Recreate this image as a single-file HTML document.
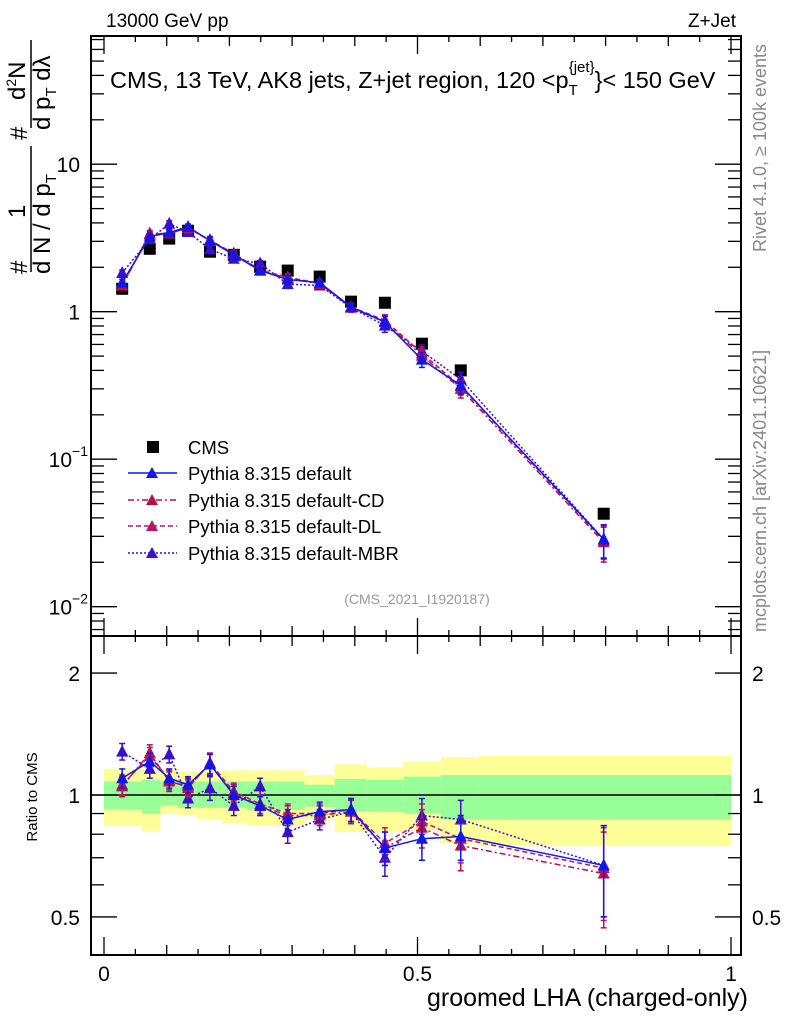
<!DOCTYPE html>
<html><head><meta charset="utf-8"><style>
body{margin:0;background:#fff}
svg{display:block;font-family:"Liberation Sans",sans-serif}
</style></head><body>
<svg id="chart" width="786" height="1024" viewBox="0 0 786 1024" xmlns="http://www.w3.org/2000/svg">
<g id="bands"></g><g id="grid"></g><g id="marks"></g>
<rect x="91" y="36" width="650" height="600" fill="none" stroke="#000" stroke-width="2"/>
<rect x="91" y="636" width="650" height="319" fill="none" stroke="#000" stroke-width="2"/>
<text x="106" y="27" font-size="19">13000 GeV pp</text>
<text x="736" y="27" font-size="19" text-anchor="end">Z+Jet</text>
<text x="110" y="88" font-size="23.5">CMS, 13 TeV, AK8 jets, Z+jet region, 120 &lt;p<tspan font-size="15" dy="7">T</tspan><tspan font-size="15" dy="-23" dx="-9">{jet}</tspan><tspan dy="16">}&lt; 150 GeV</tspan></text>
<text x="417" y="604" font-size="14" fill="#999" text-anchor="middle">(CMS_2021_I1920187)</text>
<text transform="translate(766,252) rotate(-90)" font-size="18" fill="#888">Rivet 4.1.0, ≥ 100k events</text>
<text transform="translate(766,632) rotate(-90)" font-size="18" fill="#888">mcplots.cern.ch [arXiv:2401.10621]</text>
<g font-size="24">
<text transform="translate(27,274) rotate(-90)">#</text>
<text transform="translate(25,218) rotate(-90)">1</text>
<line x1="31" y1="272" x2="31" y2="146" stroke="#000" stroke-width="1.5"/>
<text transform="translate(50,274) rotate(-90)">d N / d p<tspan font-size="15" dy="6">T</tspan></text>
<text transform="translate(27,140) rotate(-90)">#</text>
<text transform="translate(25,100) rotate(-90)">d<tspan font-size="14" dy="-9">2</tspan><tspan dy="9">N</tspan></text>
<line x1="31" y1="128" x2="31" y2="40" stroke="#000" stroke-width="1.5"/>
<text transform="translate(50,130) rotate(-90)">d p<tspan font-size="15" dy="6">T</tspan><tspan dy="-6"> dλ</tspan></text>
</g>
<text transform="translate(37,797) rotate(-90)" font-size="15" text-anchor="middle">Ratio to CMS</text>
<text x="748" y="1006" font-size="25" text-anchor="end">groomed LHA (charged-only)</text>
<g font-size="18.5">
<rect x="147" y="441" width="12" height="12" fill="#000"/>
<text x="188" y="454">CMS</text>
<line x1="128" y1="473" x2="177" y2="473" stroke="#1515e8" stroke-width="1.5"/>
<polygon points="146,478 158,478 152,467" fill="#1515e8"/>
<text x="188" y="480">Pythia 8.315 default</text>
<line x1="128" y1="500" x2="177" y2="500" stroke="#b5114a" stroke-width="1.5" stroke-dasharray="6,3,2,3"/>
<polygon points="146,505 158,505 152,494" fill="#b5114a"/>
<text x="188" y="507">Pythia 8.315 default-CD</text>
<line x1="128" y1="526" x2="177" y2="526" stroke="#b3176e" stroke-width="1.5" stroke-dasharray="5,3"/>
<polygon points="146,531 158,531 152,520" fill="#b3176e"/>
<text x="188" y="533">Pythia 8.315 default-DL</text>
<line x1="128" y1="553" x2="177" y2="553" stroke="#3a10c8" stroke-width="1.5" stroke-dasharray="2,2"/>
<polygon points="146,558 158,558 152,547" fill="#3a10c8"/>
<text x="188" y="560">Pythia 8.315 default-MBR</text>
</g>
</svg>
<script>
const lhaX=[0.029,0.073,0.104,0.134,0.169,0.207,0.249,0.293,0.344,0.394,0.448,0.507,0.569,0.797];
const cmsVals=[1.43,2.67,3.13,3.54,2.55,2.43,2.02,1.90,1.73,1.17,1.15,0.607,0.40,0.0427];
const ratioDefault=[1.10,1.21,1.10,1.06,1.19,1.00,0.94,0.87,0.91,0.92,0.74,0.78,0.79,0.67];
const ratioCD=[1.05,1.27,1.08,1.05,1.19,1.01,0.94,0.89,0.89,0.91,0.74,0.83,0.75,0.64];
const ratioDL=[1.06,1.25,1.09,1.04,1.20,1.02,0.95,0.90,0.90,0.92,0.76,0.86,0.78,0.66];
const ratioMBR=[1.28,1.16,1.26,0.98,1.04,0.94,1.05,0.81,0.87,0.91,0.70,0.89,0.87,0.67];
const ratioErr=[0.06,0.06,0.06,0.05,0.07,0.05,0.05,0.05,0.05,0.06,0.07,0.09,0.10,0.17];
const binEdges=[0,0.06,0.09,0.117,0.148,0.188,0.228,0.273,0.32,0.368,0.419,0.478,0.537,0.598,1.0];
const yellowHi=[1.16,1.16,1.16,1.14,1.14,1.15,1.15,1.15,1.12,1.19,1.17,1.21,1.24,1.25];
const yellowLo=[0.84,0.815,0.90,0.89,0.87,0.85,0.84,0.84,0.87,0.81,0.81,0.82,0.76,0.75];
const greenHi=[1.08,1.09,1.08,1.08,1.08,1.08,1.08,1.08,1.06,1.095,1.09,1.11,1.12,1.12];
const greenLo=[0.92,0.90,0.945,0.93,0.93,0.93,0.92,0.92,0.935,0.91,0.91,0.90,0.87,0.87];
const mainTicks=[10,1,0.1,0.01];
const ratioTicks=[2,1,0.5];
const xTicks=[0,0.5,1];

const NS="http://www.w3.org/2000/svg";
const X=v=>104+627*v;
const Ym=v=>311.7-147.5*Math.log10(v);
const Yr=r=>795-405*Math.log10(r);
function mk(parent,tag,attrs){const e=document.createElementNS(NS,tag);for(const k in attrs)e.setAttribute(k,attrs[k]);document.getElementById(parent).appendChild(e);return e;}

for(let i=0;i<binEdges.length-1;i++){
  const x0=X(binEdges[i]),w=X(binEdges[i+1])-x0;
  let r=mk('bands','rect',{x:x0,y:Yr(yellowHi[i]),width:w,height:Yr(yellowLo[i])-Yr(yellowHi[i]),fill:'#ffff99'});
  
  
  r=mk('bands','rect',{x:x0,y:Yr(greenHi[i]),width:w,height:Yr(greenLo[i])-Yr(greenHi[i]),fill:'#99ff99'});
  
  
}
let ref=mk('grid','line',{x1:91,x2:741,y1:Yr(1),y2:Yr(1),stroke:'#000','stroke-width':1.5});



function tk(x1,y1,x2,y2){mk('grid','line',{x1,y1,x2,y2,stroke:'#000','stroke-width':1.3});}
for(let d=-3;d<=1;d++){for(let m=1;m<=9;m++){const v=m*Math.pow(10,d);const y=Ym(v);if(y<36||y>636)continue;const L=m===1?26:13;tk(91,y,91+L,y);tk(741,y,741-L,y);}}
mainTicks.forEach(v=>{const y=Ym(v);let t;
  if(v===10||v===1){t=mk('grid','text',{x:80,y:y+8,'font-size':21,'text-anchor':'end'});t.textContent=String(v);}
  else{const e=Math.round(Math.log10(v));t=mk('grid','text',{x:72,y:y+8,'font-size':21,'text-anchor':'end'});t.textContent='10';const s=mk('grid','text',{x:88,y:y-3,'font-size':14,'text-anchor':'end'});s.textContent=String.fromCharCode(8722)+Math.abs(e);}
  
  
});
[0.5,0.6,0.7,0.8,0.9,1,2].forEach(r=>{const y=Yr(r);const L=(r===1||r===2||r===0.5)?26:13;tk(91,y,91+L,y);tk(741,y,741-L,y);});
ratioTicks.forEach(r=>{const y=Yr(r);[[80,'end'],[752,'start']].forEach(([x,a])=>{const t=mk('grid','text',{x:x,y:y+8,'font-size':21,'text-anchor':a});t.textContent=String(r);
  
  });});
for(let i=0;i<=20;i++){const v=i*0.05,x=X(v);const L=i%10===0?18:(i%2===0?10:6);tk(x,955,x,955-L);tk(x,636,x,636-L);tk(x,36,x,36+L);tk(x,636,x,636+L);}
xTicks.forEach(v=>{const t=mk('grid','text',{x:X(v),y:981,'font-size':21,'text-anchor':'middle'});t.textContent=String(v);
  
  });

cmsVals.forEach((v,i)=>{const r=mk('marks','rect',{x:X(lhaX[i])-6,y:Ym(v)-6,width:12,height:12,fill:'#000'});
  
  });

const series=[[ratioMBR,'#3a10c8','2,2','mbr'],[ratioDL,'#b3176e','5,3','dl'],[ratioCD,'#b5114a','6,3,2,3','cd'],[ratioDefault,'#1515e8','','default']];
series.forEach(([rat,col,dash,nm])=>{
  const mainPts=rat.map((r,i)=>X(lhaX[i])+','+Ym(r*cmsVals[i])).join(' ');
  const ratPts=rat.map((r,i)=>X(lhaX[i])+','+Yr(r)).join(' ');
  let p=mk('marks','polyline',{points:mainPts,fill:'none',stroke:col,'stroke-width':1.5,'stroke-dasharray':dash});
  
  
  p=mk('marks','polyline',{points:ratPts,fill:'none',stroke:col,'stroke-width':1.5,'stroke-dasharray':dash});
  
  
  rat.forEach((r,i)=>{const x=X(lhaX[i]);
    [[Ym,r*cmsVals[i],ratioErr[i]*cmsVals[i]],[Yr,r,ratioErr[i]]].forEach(([F,v,e])=>{
      const y1=F(v+e),y2=F(Math.max(v-e,0.01));
      mk('marks','line',{x1:x,x2:x,y1:y1,y2:y2,stroke:col,'stroke-width':1.5});
      mk('marks','line',{x1:x-3,x2:x+3,y1:y1,y2:y1,stroke:col,'stroke-width':1.5});
      mk('marks','line',{x1:x-3,x2:x+3,y1:y2,y2:y2,stroke:col,'stroke-width':1.5});
      const y=F(v);
      const t=mk('marks','polygon',{points:`${x-6},${y+5} ${x+6},${y+5} ${x},${y-7}`,fill:col});
      
      
    });
  });
});
</script>
</body></html>
